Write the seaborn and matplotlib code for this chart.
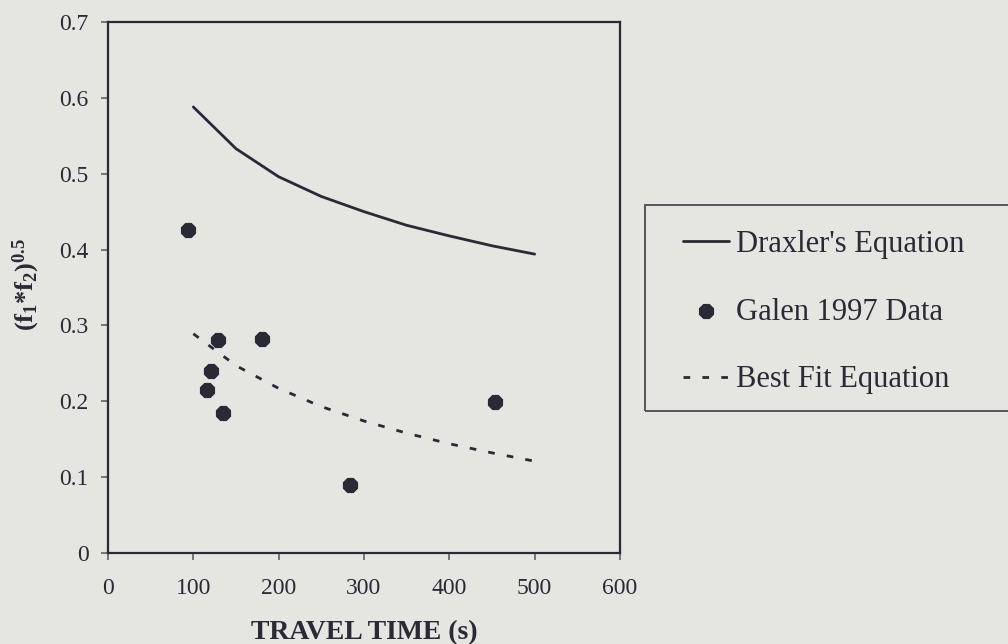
import matplotlib
matplotlib.use("Agg")
import matplotlib.pyplot as plt
import matplotlib.patches as mpatches
import seaborn as sns
import pandas as pd

# Draxler's equation curve
draxler_time = [100, 150, 200, 250, 300, 350, 400, 450, 500]
draxler_val = [0.588, 0.533, 0.496, 0.470, 0.450, 0.432, 0.418, 0.405, 0.394]

# Best fit equation curve
fit_time = [100, 150, 200, 250, 300, 350, 400, 450, 500]
fit_val = [0.289, 0.247, 0.217, 0.193, 0.174, 0.158, 0.144, 0.132, 0.121]

# Galen 1997 measurements
galen_time = [94, 129, 180, 121, 116, 135, 454, 284]
galen_val = [0.426, 0.281, 0.282, 0.240, 0.215, 0.184, 0.199, 0.090]

x_ticks = [0, 100, 200, 300, 400, 500, 600]
y_ticks = [0, 0.1, 0.2, 0.3, 0.4, 0.5, 0.6, 0.7]
y_tick_labels = ["0", "0.1", "0.2", "0.3", "0.4", "0.5", "0.6", "0.7"]

BG = "#e5e5e2"
INK = "#2a2a35"

sns.set_style("ticks")
plt.rcParams["font.family"] = ["Liberation Serif", "DejaVu Serif"]
plt.rcParams["mathtext.fontset"] = "custom"
plt.rcParams["mathtext.rm"] = "Liberation Serif"
plt.rcParams["mathtext.it"] = "Liberation Serif:italic"
plt.rcParams["mathtext.bf"] = "Liberation Serif:bold"
plt.rcParams["text.color"] = INK

fig = plt.figure(figsize=(10.08, 6.44), dpi=100, facecolor=BG)
ax = fig.add_axes([108 / 1008, 1 - 553 / 644, 512 / 1008, 531 / 644])
ax.set_facecolor(BG)

dra = pd.DataFrame({"t": draxler_time, "v": draxler_val})
fit = pd.DataFrame({"t": fit_time, "v": fit_val})
gal = pd.DataFrame({"t": galen_time, "v": galen_val})

sns.lineplot(data=dra, x="t", y="v", ax=ax, color=INK, linewidth=2.0,
             label="Draxler's Equation")
sns.scatterplot(data=gal, x="t", y="v", ax=ax, color=INK, marker="8", s=140,
                linewidth=0, label="Galen 1997 Data", zorder=3)
sns.lineplot(data=fit, x="t", y="v", ax=ax, color=INK, linewidth=2.0,
             linestyle=(0, (2.4, 4.4)), label="Best Fit Equation")

ax.set_xlim(0, 600)
ax.set_ylim(0, 0.7)
ax.set_xticks(x_ticks)
ax.set_yticks(y_ticks)
ax.set_yticklabels(y_tick_labels)

for side in ["left", "right", "top", "bottom"]:
    ax.spines[side].set_visible(True)
    ax.spines[side].set_color(INK)
    ax.spines[side].set_linewidth(1.6)

ax.tick_params(axis="both", direction="out", length=5, width=1.1,
               color="#55555c", labelsize=17, labelcolor=INK)
ax.tick_params(axis="y", pad=9)
ax.tick_params(axis="x", pad=13)

ax.set_xlabel("TRAVEL TIME (s)", fontsize=20, fontweight="bold", color=INK,
              labelpad=15)
ax.set_ylabel(r"$\mathbf{(f_1{*}f_2)^{0.5}}$", fontsize=19, color=INK)
ax.yaxis.set_label_coords(-0.128, 0.505)

# Legend without its own frame, boxed by a rectangle that runs off the right edge
handles, labels = ax.get_legend_handles_labels()
if ax.get_legend() is not None:
    ax.get_legend().remove()
leg = fig.legend(handles, labels, loc="center left",
                 bbox_to_anchor=(683 / 1008, 1 - 312 / 644),
                 frameon=False, fontsize=22, borderpad=0, borderaxespad=0,
                 handlelength=1.5, handletextpad=0.22, labelspacing=1.27,
                 labelcolor=INK)
box = mpatches.Rectangle((645 / 1008, 1 - 411 / 644), 400 / 1008, 206 / 644,
                         transform=fig.transFigure, fill=False,
                         edgecolor="#55555c", linewidth=1.4)
fig.patches.append(box)

fig.savefig("out.png", dpi=100, facecolor=BG)
